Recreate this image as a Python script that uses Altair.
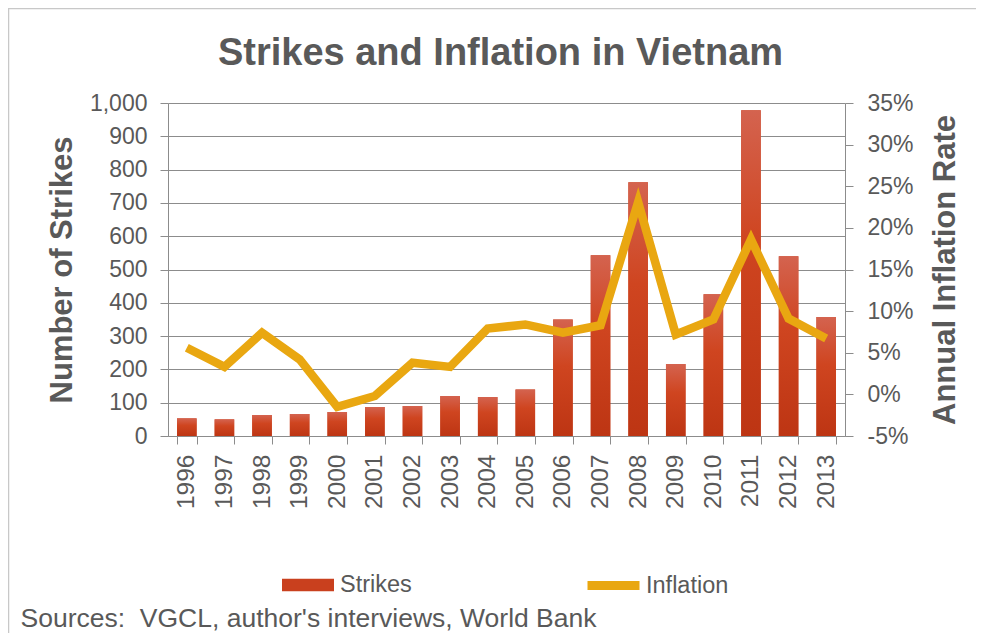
import altair as alt
import pandas as pd

# ---- data ----
years = [str(y) for y in range(1996, 2014)]
strikes = [53, 50, 63, 66, 72, 87, 90, 120, 117, 140, 350, 543, 762, 216, 426, 978, 540, 357]
inflation = [5.6, 3.3, 7.4, 4.2, -1.5, -0.2, 3.8, 3.3, 7.9, 8.4, 7.4, 8.3, 23.1, 7.2, 9.0, 18.6, 9.1, 6.7]
strike_ticks = list(range(0, 1001, 100))
inflation_ticks = list(range(-5, 36, 5))

df = pd.DataFrame({
    "year": years,
    "strikes": strikes,
    "inflation": inflation,
    "s_series": ["Strikes"] * len(years),
    "i_series": ["Inflation"] * len(years),
})

FONT = "Liberation Sans"
TXT = "#595959"
GRID = "#8c8c8c"
BAR = "#c9401e"
LINE = "#E9A711"

x_axis = alt.Axis(
    labelAngle=270, labelFontSize=24.5, labelColor=TXT, labelPadding=10,
    tickBand="extent", tickSize=8, tickColor=GRID, domainColor=GRID,
    title="Sources:\u00a0 VGCL, author's interviews, World Bank",
    titleFontSize=26.5, titleFontWeight="normal", titleColor=TXT,
    titleX=-148, titleY=190, titleAlign="left", titleBaseline="alphabetic",
    titleAngle=0,
)
x_scale = alt.Scale(paddingInner=0.48, paddingOuter=0.24)

left_axis = alt.Axis(
    values=strike_ticks, format=",d", grid=True, gridColor=GRID, gridWidth=1,
    domainColor=GRID, tickColor=GRID, tickSize=8, labelPadding=13,
    labelFontSize=23, labelColor=TXT,
    title="Number of Strikes", titleFontSize=31, titleFontWeight="bold",
    titleColor=TXT, titleX=-106, titleY=166.5, titleAngle=270,
    titleAlign="center", titleBaseline="middle",
)
right_axis = alt.Axis(
    orient="right", values=inflation_ticks, labelExpr="datum.value + '%'",
    grid=False, domainColor=GRID, tickColor=GRID, tickSize=8, labelPadding=14,
    labelFontSize=23, labelColor=TXT,
    title="Annual Inflation Rate", titleFontSize=31, titleFontWeight="bold",
    titleColor=TXT, titleX=100, titleY=166.5, titleAngle=270,
    titleAlign="center", titleBaseline="middle",
)

base = alt.Chart(df)

bars_legend = base.mark_bar().encode(
    x=alt.X("year:O", sort=years, scale=x_scale, axis=x_axis),
    y=alt.Y("strikes:Q", scale=alt.Scale(domain=[0, 1000]), axis=left_axis),
    fill=alt.Fill(
        "s_series:N",
        scale=alt.Scale(domain=["Strikes"], range=[BAR]),
        legend=alt.Legend(
            orient="none", legendX=114, legendY=456, title=None,
            symbolType="M-1,-0.245H1V0.245H-1Z", symbolSize=2704,
            symbolStrokeWidth=0, labelFontSize=23.5, labelColor=TXT,
            labelFont=FONT, labelOffset=6, padding=0,
        ),
    ),
)

grad = alt.Gradient(
    gradient="linear",
    stops=[
        alt.GradientStop(color="#d4634f", offset=0),
        alt.GradientStop(color="#cf4520", offset=0.4),
        alt.GradientStop(color="#bd3513", offset=1),
    ],
    x1=0, x2=0, y1=0, y2=1,
)
bars_grad = base.mark_bar(color=grad).encode(
    x=alt.X("year:O", sort=years, scale=x_scale, axis=x_axis),
    y=alt.Y("strikes:Q", scale=alt.Scale(domain=[0, 1000]), axis=left_axis),
)

bars = alt.layer(bars_legend, bars_grad)

line = base.mark_line(strokeWidth=8.5, strokeJoin="miter", strokeCap="butt").encode(
    x=alt.X("year:O", sort=years, scale=x_scale, axis=x_axis, bandPosition=0.5),
    y=alt.Y("inflation:Q", scale=alt.Scale(domain=[-5, 35]), axis=right_axis),
    stroke=alt.Stroke(
        "i_series:N",
        scale=alt.Scale(domain=["Inflation"], range=[LINE]),
        legend=alt.Legend(
            orient="none", legendX=415, legendY=452, title=None,
            symbolType="stroke", symbolSize=2704, symbolStrokeWidth=9,
            symbolFillColor="transparent",
            labelFontSize=23.5, labelColor=TXT, labelFont=FONT,
            labelOffset=2, padding=0,
        ),
    ),
)

# decorative frame around the whole chart (as in the reference)
frame = alt.Chart(pd.DataFrame({"k": [0]})).mark_rect(
    fill="transparent", stroke="#c8c8c8", strokeWidth=1.5, clip=False
).encode(
    x=alt.value(-159.5), x2=alt.value(830), y=alt.value(-94.5), y2=alt.value(560)
)

chart = (
    alt.layer(frame, bars, line)
    .resolve_scale(y="independent", fill="independent", stroke="independent")
    .properties(
        width=677, height=333,
        autosize=alt.AutoSizeParams(type="none"),
        padding={"left": 160, "top": 95, "right": 131, "bottom": 197},
        title=alt.TitleParams(
            "Strikes and Inflation in Vietnam", fontSize=38, font=FONT,
            color=TXT, fontWeight="bold", anchor="middle", dx=-6, dy=121,
            baseline="alphabetic", offset=26,
        ),
    )
    .configure(font=FONT, background="white")
    .configure_view(stroke=None)
    .configure_axis(labelFont=FONT, titleFont=FONT)
)

chart.save("out.html", embed_options={"renderer": "svg", "actions": False})
